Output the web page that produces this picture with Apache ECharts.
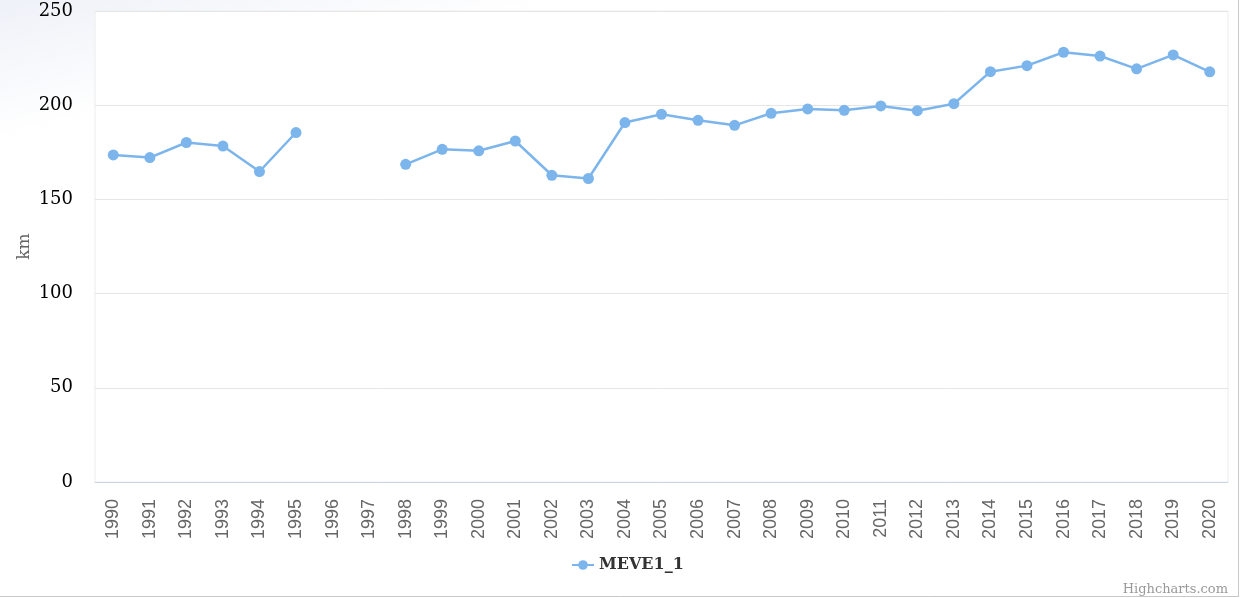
<!DOCTYPE html>
<html>
<head>
<meta charset="utf-8">
<script src="https://cdn.jsdelivr.net/npm/echarts@6/dist/echarts.min.js"></script>
<style>
html,body{margin:0;padding:0;background:#fff;}
#c{width:1241px;height:598px;}
</style>
</head>
<body>
<div id="c"></div>
<script>
var categories = ['1990','1991','1992','1993','1994','1995','1996','1997','1998','1999','2000','2001','2002','2003','2004','2005','2006','2007','2008','2009','2010','2011','2012','2013','2014','2015','2016','2017','2018','2019','2020'];
var seriesName = 'MEVE1_1';
var values = [173.6,172.2,180.2,178.3,164.8,185.5,null,null,168.6,176.6,175.8,181.0,162.8,161.1,190.8,195.2,192.0,189.3,195.7,198.0,197.3,199.6,197.1,200.8,217.8,221.0,228.1,226.1,219.3,226.7,217.7];
var yTicks = {min:0, max:250, interval:50};
var yTitle = 'km';
var credits = 'Highcharts.com';

var chart = echarts.init(document.getElementById('c'), null, {renderer:'canvas'});
chart.setOption({
  animation:false,
  backgroundColor:{type:'linear',x:0,y:0,x2:0.12,y2:1,colorStops:[{offset:0,color:'#eef1f8'},{offset:0.22,color:'#ffffff'},{offset:1,color:'#ffffff'}]},
  graphic:[
    {type:'line',shape:{x1:1238.5,y1:0,x2:1238.5,y2:596.5},style:{stroke:'#c8c8c8',lineWidth:1},silent:true},
    {type:'line',shape:{x1:0,y1:596.5,x2:1239,y2:596.5},style:{stroke:'#c8c8c8',lineWidth:1},silent:true},
    {type:'text',right:13,bottom:2,style:{text:credits,fill:'#999',font:'13px "DejaVu Serif"'}}
  ],
  grid:{left:95,right:13,top:11,bottom:116,show:true,backgroundColor:'#ffffff',borderColor:'#ececec',borderWidth:1},
  legend:{left:566,top:552,itemWidth:22,itemHeight:12,itemGap:6,
    textStyle:{fontFamily:'DejaVu Serif',fontWeight:'bold',fontSize:16,color:'#333'},
    data:[seriesName]},
  xAxis:{type:'category',data:categories,boundaryGap:true,
    axisLine:{lineStyle:{color:'#ccd6eb'}},axisTick:{show:false},
    axisLabel:{rotate:90,interval:0,margin:17,fontFamily:'Liberation Sans',fontSize:18,color:'#666'},
    splitLine:{show:false}},
  yAxis:{type:'value',min:yTicks.min,max:yTicks.max,interval:yTicks.interval,
    name:yTitle,nameLocation:'middle',nameRotate:90,nameGap:62,nameMoveOverlap:false,
    nameTextStyle:{fontFamily:'DejaVu Serif',fontSize:17,color:'#666'},
    axisLine:{show:false},axisTick:{show:false},
    axisLabel:{margin:22,fontFamily:'DejaVu Serif',fontSize:18,color:'#000',padding:[5,0,0,0]},
    splitLine:{lineStyle:{color:'#e6e6e6'}}},
  series:[{name:seriesName,type:'line',data:values,connectNulls:false,
    symbol:'circle',symbolSize:11,showAllSymbol:true,
    itemStyle:{color:'#7cb5ec'},lineStyle:{color:'#7cb5ec',width:2.5}}]
});
</script>
</body>
</html>
